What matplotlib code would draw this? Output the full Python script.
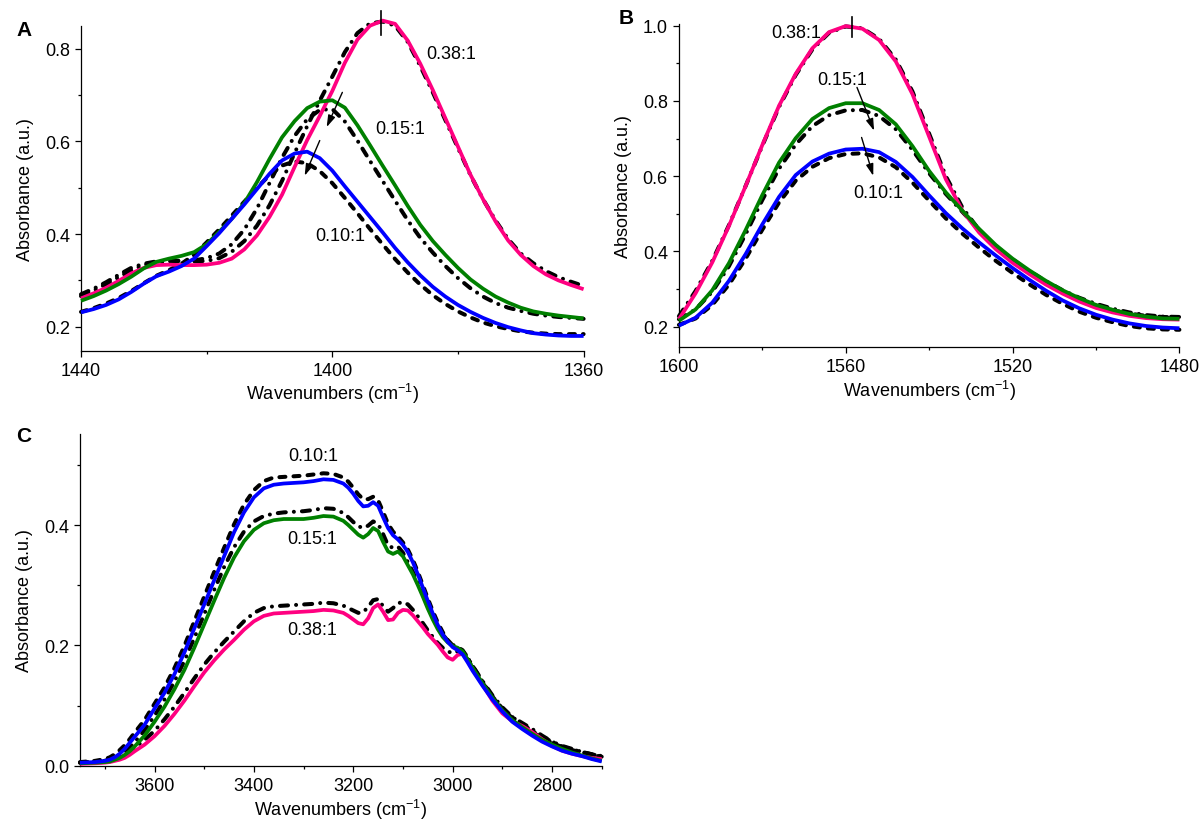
import matplotlib
matplotlib.use("Agg")
import matplotlib.pyplot as plt
from matplotlib.ticker import MultipleLocator, FormatStrFormatter

plt.rcParams['font.family'] = ['Liberation Sans', 'DejaVu Sans']
plt.rcParams['mathtext.default'] = 'regular'

# ---------------- Panel A data (1440-1360 cm-1) ----------------
wn_a = [1440, 1438, 1436, 1434, 1432, 1430, 1428, 1426, 1424, 1422, 1420, 1418, 1416, 1414,
        1412, 1410, 1408, 1406, 1404, 1402, 1400, 1398, 1396, 1394, 1392, 1390, 1388, 1386,
        1384, 1382, 1380, 1378, 1376, 1374, 1372, 1370, 1368, 1366, 1364, 1362, 1360]
a_038 = [0.261, 0.272, 0.284, 0.299, 0.315, 0.327, 0.333, 0.334, 0.333, 0.333, 0.334, 0.338,
         0.347, 0.367, 0.397, 0.437, 0.485, 0.545, 0.603, 0.655, 0.709, 0.770, 0.820, 0.850,
         0.861, 0.854, 0.818, 0.768, 0.711, 0.650, 0.589, 0.528, 0.475, 0.427, 0.386, 0.355,
         0.331, 0.313, 0.300, 0.290, 0.281]
a_038_ref = [0.270, 0.282, 0.296, 0.312, 0.327, 0.336, 0.341, 0.343, 0.342, 0.341, 0.342,
             0.348, 0.362, 0.385, 0.418, 0.462, 0.515, 0.575, 0.633, 0.688, 0.740, 0.793,
             0.834, 0.855, 0.859, 0.850, 0.815, 0.763, 0.706, 0.646, 0.586, 0.527, 0.475,
             0.429, 0.389, 0.358, 0.337, 0.320, 0.307, 0.297, 0.288]
a_015 = [0.256, 0.266, 0.278, 0.292, 0.308, 0.326, 0.340, 0.347, 0.353, 0.361, 0.378, 0.405,
         0.433, 0.467, 0.512, 0.562, 0.609, 0.644, 0.672, 0.686, 0.689, 0.673, 0.635, 0.592,
         0.548, 0.505, 0.461, 0.420, 0.385, 0.355, 0.327, 0.302, 0.282, 0.265, 0.252, 0.241,
         0.233, 0.228, 0.224, 0.221, 0.218]
a_015_ref = [0.266, 0.278, 0.292, 0.307, 0.322, 0.333, 0.339, 0.341, 0.342, 0.343, 0.348,
             0.358, 0.378, 0.410, 0.455, 0.510, 0.565, 0.612, 0.648, 0.668, 0.670, 0.643,
             0.602, 0.558, 0.515, 0.472, 0.430, 0.392, 0.360, 0.331, 0.305, 0.283, 0.265,
             0.251, 0.241, 0.234, 0.228, 0.224, 0.221, 0.219, 0.217]
a_010 = [0.231, 0.238, 0.247, 0.259, 0.275, 0.293, 0.309, 0.319, 0.331, 0.347, 0.374, 0.402,
         0.433, 0.464, 0.497, 0.530, 0.559, 0.574, 0.578, 0.564, 0.537, 0.503, 0.470, 0.437,
         0.404, 0.370, 0.339, 0.311, 0.286, 0.265, 0.247, 0.232, 0.219, 0.208, 0.199, 0.192,
         0.186, 0.183, 0.181, 0.180, 0.180]
a_010_ref = [0.232, 0.240, 0.250, 0.262, 0.277, 0.294, 0.310, 0.322, 0.336, 0.355, 0.382,
             0.410, 0.440, 0.470, 0.500, 0.527, 0.548, 0.557, 0.553, 0.536, 0.510, 0.478,
             0.445, 0.411, 0.378, 0.346, 0.317, 0.291, 0.268, 0.249, 0.233, 0.220, 0.209,
             0.201, 0.195, 0.190, 0.187, 0.185, 0.184, 0.184, 0.184]

# ---------------- Panel B data (1600-1480 cm-1) ----------------
wn_b = [1600, 1596, 1592, 1588, 1584, 1580, 1576, 1572, 1568, 1564, 1560, 1556, 1552, 1548,
        1544, 1540, 1536, 1532, 1528, 1524, 1520, 1516, 1512, 1508, 1504, 1500, 1496, 1492,
        1488, 1484, 1480]
b_038 = [0.220, 0.289, 0.371, 0.468, 0.574, 0.683, 0.787, 0.872, 0.940, 0.983, 0.999, 0.992,
         0.962, 0.905, 0.818, 0.705, 0.592, 0.508, 0.450, 0.406, 0.370, 0.340, 0.312, 0.288,
         0.267, 0.250, 0.238, 0.229, 0.223, 0.220, 0.219]
b_038_ref = [0.228, 0.295, 0.375, 0.470, 0.574, 0.681, 0.784, 0.869, 0.937, 0.981, 0.998,
             0.993, 0.965, 0.910, 0.825, 0.713, 0.600, 0.516, 0.457, 0.413, 0.377, 0.346,
             0.318, 0.294, 0.273, 0.256, 0.244, 0.235, 0.229, 0.226, 0.225]
b_015 = [0.216, 0.246, 0.297, 0.369, 0.457, 0.550, 0.636, 0.701, 0.752, 0.781, 0.794, 0.794,
         0.776, 0.738, 0.680, 0.614, 0.557, 0.508, 0.460, 0.417, 0.381, 0.350, 0.322, 0.297,
         0.276, 0.258, 0.245, 0.234, 0.227, 0.222, 0.221]
b_015_ref = [0.220, 0.246, 0.293, 0.361, 0.446, 0.537, 0.620, 0.684, 0.733, 0.762, 0.775,
             0.776, 0.760, 0.725, 0.670, 0.608, 0.553, 0.505, 0.457, 0.414, 0.379, 0.348,
             0.321, 0.297, 0.277, 0.261, 0.248, 0.238, 0.231, 0.227, 0.226]
b_010 = [0.203, 0.224, 0.264, 0.322, 0.393, 0.472, 0.545, 0.603, 0.639, 0.660, 0.671, 0.673,
         0.664, 0.638, 0.598, 0.549, 0.502, 0.461, 0.424, 0.389, 0.356, 0.325, 0.296, 0.270,
         0.249, 0.232, 0.219, 0.209, 0.202, 0.198, 0.196]
b_010_ref = [0.205, 0.222, 0.258, 0.312, 0.381, 0.458, 0.530, 0.588, 0.625, 0.648, 0.659,
             0.661, 0.650, 0.624, 0.583, 0.535, 0.488, 0.447, 0.410, 0.375, 0.343, 0.313,
             0.285, 0.261, 0.240, 0.224, 0.212, 0.202, 0.196, 0.193, 0.192]

# ---------------- Panel C data (3750-2700 cm-1) ----------------
wn_c = [3750, 3720, 3700, 3690, 3680, 3670, 3660, 3650, 3640, 3620, 3600, 3580, 3560, 3540,
        3520, 3500, 3480, 3460, 3440, 3420, 3400, 3380, 3360, 3340, 3320, 3300, 3280, 3260,
        3240, 3220, 3210, 3200, 3190, 3180, 3170, 3160, 3150, 3140, 3130, 3120, 3110, 3100,
        3090, 3080, 3070, 3060, 3050, 3040, 3030, 3020, 3010, 3000, 2990, 2980, 2970, 2960,
        2940, 2920, 2900, 2880, 2860, 2840, 2820, 2800, 2780, 2760, 2740, 2720, 2700]
c_010 = [0.005, 0.006, 0.008, 0.010, 0.014, 0.020, 0.028, 0.038, 0.048, 0.068, 0.095, 0.121,
         0.152, 0.188, 0.228, 0.268, 0.308, 0.348, 0.388, 0.421, 0.446, 0.461, 0.467, 0.469,
         0.470, 0.471, 0.473, 0.476, 0.475, 0.469, 0.462, 0.452, 0.440, 0.431, 0.432, 0.438,
         0.432, 0.413, 0.395, 0.383, 0.376, 0.367, 0.355, 0.338, 0.318, 0.296, 0.274, 0.253,
         0.234, 0.218, 0.206, 0.197, 0.192, 0.185, 0.172, 0.158, 0.133, 0.110, 0.090, 0.073,
         0.061, 0.050, 0.040, 0.032, 0.025, 0.020, 0.016, 0.011, 0.007]
c_010_ref = [0.006, 0.008, 0.011, 0.014, 0.019, 0.026, 0.034, 0.044, 0.055, 0.076, 0.103,
             0.130, 0.162, 0.199, 0.240, 0.281, 0.322, 0.362, 0.401, 0.434, 0.458, 0.473,
             0.479, 0.480, 0.481, 0.482, 0.484, 0.486, 0.485, 0.479, 0.472, 0.462, 0.451,
             0.443, 0.443, 0.447, 0.441, 0.422, 0.402, 0.389, 0.381, 0.371, 0.359, 0.342,
             0.322, 0.300, 0.278, 0.257, 0.238, 0.222, 0.209, 0.200, 0.195, 0.189, 0.177,
             0.163, 0.138, 0.115, 0.095, 0.079, 0.067, 0.056, 0.046, 0.038, 0.031, 0.026,
             0.022, 0.018, 0.015]
c_015 = [0.004, 0.005, 0.006, 0.007, 0.010, 0.013, 0.018, 0.024, 0.032, 0.050, 0.073, 0.098,
         0.127, 0.159, 0.196, 0.235, 0.274, 0.312, 0.346, 0.373, 0.392, 0.403, 0.408, 0.410,
         0.410, 0.410, 0.412, 0.415, 0.414, 0.407, 0.400, 0.392, 0.384, 0.379, 0.385, 0.395,
         0.390, 0.372, 0.356, 0.352, 0.356, 0.348, 0.333, 0.318, 0.300, 0.281, 0.261, 0.243,
         0.227, 0.214, 0.205, 0.199, 0.196, 0.190, 0.177, 0.163, 0.137, 0.113, 0.092, 0.076,
         0.064, 0.053, 0.043, 0.035, 0.028, 0.022, 0.017, 0.012, 0.008]
c_015_ref = [0.005, 0.006, 0.008, 0.010, 0.013, 0.017, 0.023, 0.030, 0.039, 0.059, 0.083,
             0.110, 0.140, 0.174, 0.212, 0.252, 0.292, 0.330, 0.363, 0.389, 0.406, 0.415,
             0.419, 0.421, 0.422, 0.423, 0.425, 0.428, 0.427, 0.420, 0.413, 0.405, 0.398,
             0.395, 0.399, 0.406, 0.402, 0.385, 0.366, 0.362, 0.364, 0.354, 0.338, 0.322,
             0.304, 0.285, 0.265, 0.247, 0.231, 0.218, 0.208, 0.201, 0.197, 0.192, 0.180,
             0.166, 0.141, 0.117, 0.097, 0.081, 0.069, 0.058, 0.048, 0.040, 0.033, 0.028,
             0.023, 0.019, 0.015]
c_038 = [0.003, 0.004, 0.005, 0.006, 0.008, 0.010, 0.013, 0.018, 0.024, 0.035, 0.049, 0.066,
         0.086, 0.108, 0.132, 0.155, 0.175, 0.193, 0.209, 0.226, 0.240, 0.249, 0.253, 0.254,
         0.255, 0.256, 0.257, 0.259, 0.258, 0.254, 0.249, 0.243, 0.237, 0.235, 0.245, 0.262,
         0.268, 0.256, 0.242, 0.243, 0.254, 0.259, 0.258, 0.250, 0.240, 0.230, 0.219, 0.210,
         0.201, 0.190, 0.180, 0.176, 0.184, 0.186, 0.175, 0.161, 0.135, 0.108, 0.087, 0.074,
         0.066, 0.056, 0.044, 0.033, 0.025, 0.020, 0.016, 0.013, 0.011]
c_038_ref = [0.005, 0.006, 0.008, 0.009, 0.011, 0.014, 0.018, 0.023, 0.030, 0.043, 0.058,
             0.077, 0.098, 0.121, 0.145, 0.168, 0.188, 0.206, 0.223, 0.240, 0.254, 0.262,
             0.265, 0.266, 0.267, 0.268, 0.269, 0.271, 0.270, 0.266, 0.262, 0.258, 0.254,
             0.255, 0.264, 0.275, 0.277, 0.265, 0.256, 0.262, 0.270, 0.272, 0.268, 0.259,
             0.248, 0.237, 0.225, 0.214, 0.204, 0.196, 0.190, 0.187, 0.190, 0.190, 0.180,
             0.166, 0.140, 0.114, 0.094, 0.081, 0.071, 0.061, 0.050, 0.040, 0.032, 0.027,
             0.023, 0.019, 0.016]

ratio_labels = ["0.38:1", "0.15:1", "0.10:1"]

PINK = "#FF0080"
GREEN = "#008000"
BLUE = "#0000FF"

CLR_LW = 2.7
BLK_LW = 2.9
DASHDOT = (0, (2.0, 2.0, 0.01, 2.0))
DASHED = (0, (1.5, 2.0))

TICK_FS = 13
LABEL_FS = 13

fig = plt.figure(figsize=(12.03, 8.20), dpi=100)

W, H = 1203.0, 820.0
def ax_rect(left, right, top, bottom):
    return [left / W, 1 - bottom / H, (right - left) / W, (bottom - top) / H]

axA = fig.add_axes(ax_rect(81, 583.6, 26.7, 351.5))
axB = fig.add_axes(ax_rect(678.9, 1179.4, 25, 347.7))
axC = fig.add_axes(ax_rect(80, 601.7, 435, 766.7))


def style(ax, xlim, ylim, xmaj, xmin, ymaj, ymin, yticks):
    ax.set_xlim(*xlim)
    ax.set_ylim(*ylim)
    for s in ("top", "right"):
        ax.spines[s].set_visible(False)
    for s in ("left", "bottom"):
        ax.spines[s].set_linewidth(0.9)
    ax.xaxis.set_major_locator(MultipleLocator(xmaj))
    ax.xaxis.set_minor_locator(MultipleLocator(xmin))
    ax.set_yticks(yticks)
    ax.yaxis.set_minor_locator(MultipleLocator(ymin))
    ax.yaxis.set_major_formatter(FormatStrFormatter("%.1f"))
    ax.tick_params(which="major", direction="out", length=4.5, width=0.9,
                   labelsize=TICK_FS, pad=3.5)
    ax.tick_params(which="minor", direction="out", length=2.5, width=0.9)
    ax.set_xlabel("Wavenumbers (cm$^{-1}$)", fontsize=LABEL_FS, labelpad=2)
    ax.set_ylabel("Absorbance (a.u.)", fontsize=LABEL_FS, labelpad=8)


def draw(ax, wn, refs, samples):
    styles = [DASHDOT, DASHDOT, DASHED]
    colors = [PINK, GREEN, BLUE]
    for r, ls in zip(refs, styles):
        ax.plot(wn, r, color="black", lw=BLK_LW, linestyle=ls,
                dash_capstyle="round", clip_on=False, zorder=2)
    for s, c in zip(samples, colors):
        ax.plot(wn, s, color=c, lw=CLR_LW, solid_capstyle="butt",
                solid_joinstyle="round", clip_on=False, zorder=3)


def arrow(ax, x0, y0, x1, y1):
    ax.annotate("", xy=(x1, y1), xytext=(x0, y0),
                arrowprops=dict(arrowstyle="-|>,head_length=0.7,head_width=0.22",
                                color="black", lw=1.0, shrinkA=0, shrinkB=0),
                zorder=5)


# ---- Panel A ----
style(axA, (1440, 1360), (0.1486, 0.85), 40, 20, 0.2, 0.1, [0.2, 0.4, 0.6, 0.8])
draw(axA, wn_a, [a_038_ref, a_015_ref, a_010_ref], [a_038, a_015, a_010])
axA.plot([1392.3, 1392.3], [0.830, 0.882], color="black", lw=1.2, clip_on=False, zorder=5)
arrow(axA, 1398.4, 0.706, 1400.9, 0.631)
arrow(axA, 1402.0, 0.602, 1404.4, 0.526)
axA.text(1381.0, 0.789, ratio_labels[0], fontsize=TICK_FS, ha="center", va="center")
axA.text(1389.2, 0.629, ratio_labels[1], fontsize=TICK_FS, ha="center", va="center")
axA.text(1398.8, 0.396, ratio_labels[2], fontsize=TICK_FS, ha="center", va="center")

# ---- Panel B ----
style(axB, (1600, 1480), (0.147, 1.0045), 40, 20, 0.2, 0.1, [0.2, 0.4, 0.6, 0.8, 1.0])
draw(axB, wn_b, [b_038_ref, b_015_ref, b_010_ref], [b_038, b_015, b_010])
axB.plot([1558.5, 1558.5], [0.969, 1.022], color="black", lw=1.2, clip_on=False, zorder=5)
arrow(axB, 1557.3, 0.836, 1553.2, 0.721)
arrow(axB, 1556.2, 0.703, 1553.4, 0.601)
axB.text(1571.9, 0.982, ratio_labels[0], fontsize=TICK_FS, ha="center", va="center")
axB.text(1560.8, 0.858, ratio_labels[1], fontsize=TICK_FS, ha="center", va="center")
axB.text(1552.1, 0.557, ratio_labels[2], fontsize=TICK_FS, ha="center", va="center")

# ---- Panel C ----
style(axC, (3750, 2700), (0.0, 0.5513), 200, 100, 0.2, 0.1, [0.0, 0.2, 0.4])
draw(axC, wn_c, [c_038_ref, c_015_ref, c_010_ref], [c_038, c_015, c_010])
axC.text(3281, 0.515, ratio_labels[2], fontsize=TICK_FS, ha="center", va="center")
axC.text(3283, 0.378, ratio_labels[1], fontsize=TICK_FS, ha="center", va="center")
axC.text(3283, 0.226, ratio_labels[0], fontsize=TICK_FS, ha="center", va="center")

# panel letters
fig.text(23.7 / W, 1 - 30 / H, "A", fontsize=15, fontweight="bold", ha="center", va="center")
fig.text(626 / W, 1 - 18 / H, "B", fontsize=15, fontweight="bold", ha="center", va="center")
fig.text(23.3 / W, 1 - 436.7 / H, "C", fontsize=15, fontweight="bold", ha="center", va="center")

fig.savefig("out.png", dpi=100)
